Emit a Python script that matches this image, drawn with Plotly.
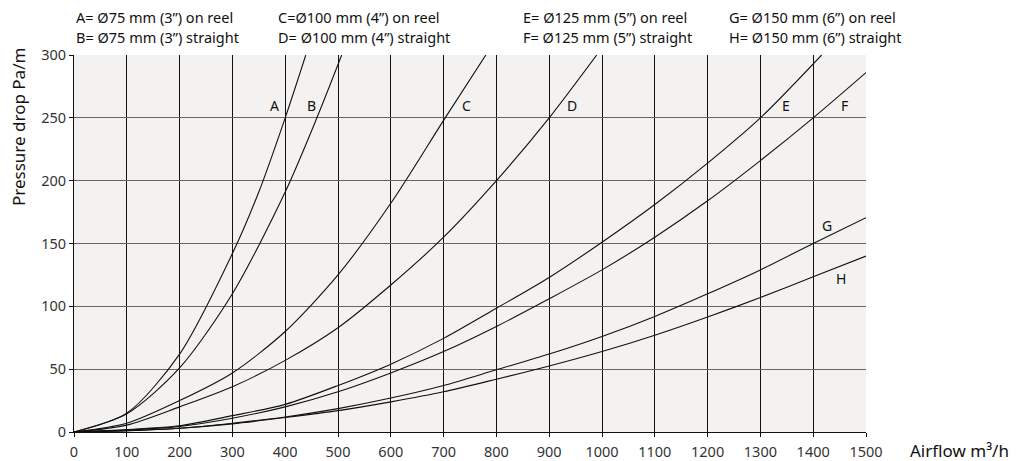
import plotly.graph_objects as go

# ---- data ----
flow_A = [0, 100, 200, 300, 350, 400, 439]
dp_A = [0, 15, 62, 142, 191, 250, 300]

flow_B = [0, 100, 200, 300, 400, 460, 507]
dp_B = [0, 14.5, 51, 110, 191, 250, 300]

flow_C = [0, 100, 200, 300, 400, 500, 600, 703, 780]
dp_C = [0, 7, 25, 47, 80, 125, 182, 250, 300]

flow_D = [0, 100, 200, 300, 400, 500, 600, 700, 800, 900, 990]
dp_D = [0, 5.5, 20, 36, 57, 83, 117, 155, 200, 250, 300]

flow_E = [0, 100, 200, 300, 400, 500, 600, 700, 800, 900, 1000, 1100, 1200, 1300, 1416]
dp_E = [0, 2, 5, 13, 22, 37, 54, 74.5, 98.5, 123, 151, 181, 214, 250, 300]

flow_F = [0, 100, 200, 300, 400, 500, 600, 700, 800, 900, 1000, 1100, 1200, 1300, 1400, 1500]
dp_F = [0, 1.5, 4.5, 11, 20, 32, 47, 64, 84, 106, 129, 155, 184, 216, 250, 286]

flow_G = [0, 100, 200, 300, 400, 500, 600, 700, 800, 900, 1000, 1100, 1200, 1300, 1400, 1500]
dp_G = [0, 1, 3, 7, 12, 18.6, 27, 37, 49.5, 62, 76, 92, 110, 129, 150, 170.5]

flow_H = [0, 100, 200, 300, 400, 500, 600, 700, 800, 900, 1000, 1100, 1200, 1300, 1400, 1500]
dp_H = [0, 1, 3, 6.5, 11.5, 17, 24, 32, 42, 52.5, 64, 77, 91.5, 107, 123.5, 140]

curve_names = ["A", "B", "C", "D", "E", "F", "G", "H"]
curve_flows = [flow_A, flow_B, flow_C, flow_D, flow_E, flow_F, flow_G, flow_H]
curve_dps = [dp_A, dp_B, dp_C, dp_D, dp_E, dp_F, dp_G, dp_H]

label_x = [379, 449, 744, 943, 1348, 1460, 1426, 1453]
label_y = [260, 260, 260, 260, 260, 260, 164, 122]

legend_lines = [
    ("A= Ø75 mm (3”) on reel", "B= Ø75 mm (3”) straight"),
    ("C=Ø100 mm (4”) on reel", "D= Ø100 mm (4”) straight"),
    ("E= Ø125 mm (5”) on reel", "F= Ø125 mm (5”) straight"),
    ("G= Ø150 mm (6”) on reel", "H= Ø150 mm (6”) straight"),
]
legend_px = [74, 276, 521, 727]

x_ticks = list(range(0, 1501, 100))
y_ticks = list(range(0, 301, 50))

FONT = "Noto Sans"
W, H = 1020, 461
L, R, T, B = 74, 154, 55, 29
plot_w = W - L - R
plot_h = H - T - B

fig = go.Figure()
for name, fx, dy in zip(curve_names, curve_flows, curve_dps):
    fig.add_trace(go.Scatter(
        x=fx, y=dy, mode="lines", name=name,
        line=dict(color="#111111", width=1.1, shape="spline", smoothing=0.8),
        hoverinfo="x+y+name", showlegend=False,
    ))

for name, lx, ly in zip(curve_names, label_x, label_y):
    fig.add_annotation(x=lx, y=ly, text=name, showarrow=False,
                       font=dict(family=FONT, size=14, color="#111111"),
                       xanchor="center", yanchor="middle")

for (l1, l2), px in zip(legend_lines, legend_px):
    xp = (px - L) / plot_w
    fig.add_annotation(xref="paper", yref="paper", x=xp, y=1 + (T - 17) / plot_h,
                       text=l1, showarrow=False, xanchor="left", yanchor="middle",
                       font=dict(family=FONT, size=14.5, color="#111111"))
    fig.add_annotation(xref="paper", yref="paper", x=xp, y=1 + (T - 37) / plot_h,
                       text=l2, showarrow=False, xanchor="left", yanchor="middle",
                       font=dict(family=FONT, size=14.5, color="#111111"))

# axis titles
fig.add_annotation(xref="paper", yref="paper", x=(908 - L) / plot_w, y=(H - B - 450) / plot_h,
                   text="Airflow m³/h", showarrow=False, xanchor="left", yanchor="middle",
                   font=dict(family=FONT, size=17, color="#111111"))
fig.add_annotation(xref="paper", yref="paper", x=(18 - L) / plot_w, y=(H - B - 127) / plot_h,
                   text="Pressure drop Pa/m", showarrow=False, textangle=-90,
                   xanchor="center", yanchor="middle",
                   font=dict(family=FONT, size=17, color="#111111"))

fig.update_layout(
    width=W, height=H,
    margin=dict(l=L, r=R, t=T, b=B, autoexpand=False),
    paper_bgcolor="white",
    plot_bgcolor="#f3f2f0",
    showlegend=False,
    xaxis=dict(range=[0, 1500], tickvals=x_ticks, ticktext=[str(v) for v in x_ticks],
               showgrid=True, gridcolor="#111111", gridwidth=1,
               zeroline=False, showline=True, linecolor="#111111", linewidth=1,
               ticks="outside", ticklen=4, tickcolor="#111111", automargin=False,
               ticklabelstandoff=3,
               tickfont=dict(family=FONT, size=14.5, color="#333333")),
    yaxis=dict(range=[0, 300], tickvals=y_ticks, ticktext=[str(v) for v in y_ticks],
               showgrid=True, gridcolor="#666666", gridwidth=1.3,
               zeroline=False, showline=True, linecolor="#111111", linewidth=1,
               ticks="outside", ticklen=4, tickcolor="#111111", automargin=False,
               tickfont=dict(family=FONT, size=14.5, color="#333333")),
)

fig.write_html("out.html", config={"displayModeBar": False},
               post_script="document.body.style.margin='0';document.body.style.padding='0';")
